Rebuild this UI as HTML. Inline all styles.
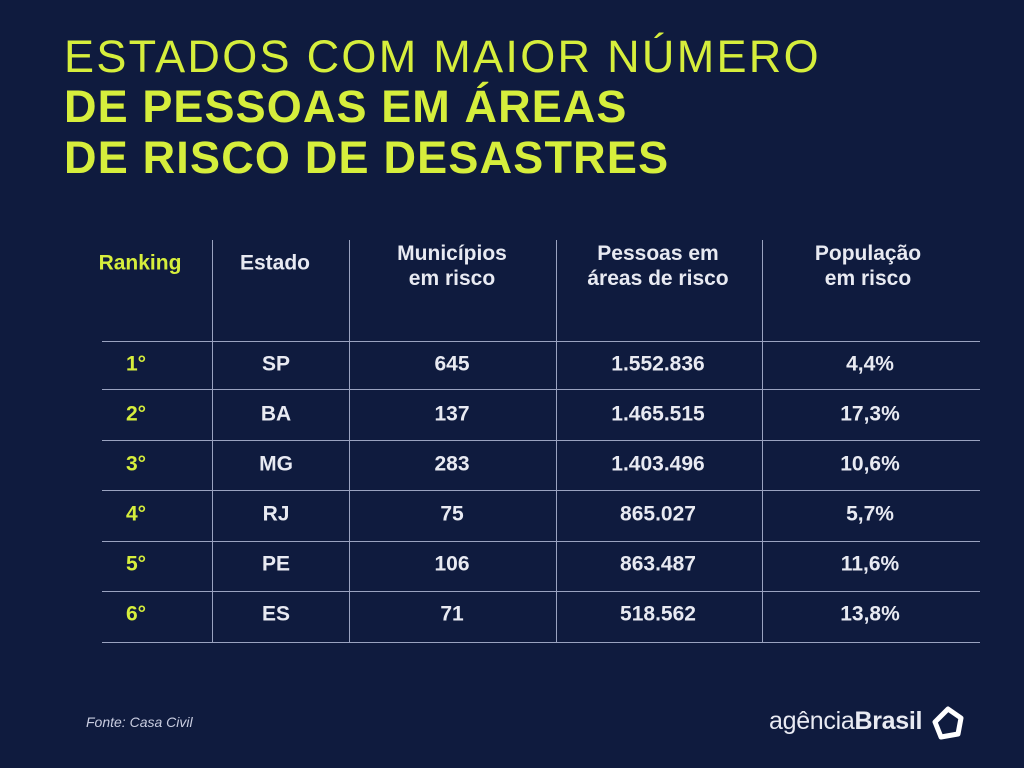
<!DOCTYPE html>
<html><head><meta charset="utf-8"><style>
body{margin:0;width:1024px;height:768px;background:#0f1b3e;position:relative;overflow:hidden;font-family:"Liberation Sans",sans-serif;}
.t{position:absolute;left:64px;color:#d6ee3c;font-size:45px;line-height:50px;white-space:nowrap}
.vl{position:absolute;top:240px;height:402px;width:1px;background:#9aa3c0}
.hl{position:absolute;left:102px;width:878px;height:1px;background:#9aa3c0}
.c{position:absolute;font-weight:bold;font-size:21px;color:#e8eaf2;text-align:center;transform:translate(-50%,-50%);white-space:nowrap;line-height:25px}
.y{color:#d6ee3c}
</style></head><body>
<div class="t" style="top:32px;letter-spacing:2.3px">ESTADOS COM MAIOR NÚMERO</div>
<div class="t" style="top:82px;font-weight:bold;letter-spacing:1.1px">DE PESSOAS EM ÁREAS</div>
<div class="t" style="top:133px;font-weight:bold;letter-spacing:1.2px">DE RISCO DE DESASTRES</div>
<div class="vl" style="left:212px"></div><div class="vl" style="left:349px"></div><div class="vl" style="left:556px"></div><div class="vl" style="left:762px"></div>
<div class="hl" style="top:341px"></div><div class="hl" style="top:389px"></div><div class="hl" style="top:440px"></div><div class="hl" style="top:490px"></div><div class="hl" style="top:541px"></div><div class="hl" style="top:591px"></div><div class="hl" style="top:642px"></div>
<div class="c y" style="left:140px;top:263px">Ranking</div>
<div class="c" style="left:275px;top:263px">Estado</div>
<div class="c" style="left:452px;top:266px">Municípios<br>em risco</div>
<div class="c" style="left:658px;top:266px">Pessoas em<br>áreas de risco</div>
<div class="c" style="left:868px;top:266px">População<br>em risco</div>
<div class="c y" style="left:136px;top:364px">1°</div><div class="c" style="left:276px;top:364px">SP</div><div class="c" style="left:452px;top:364px">645</div><div class="c" style="left:658px;top:364px">1.552.836</div><div class="c" style="left:870px;top:364px">4,4%</div>
<div class="c y" style="left:136px;top:414px">2°</div><div class="c" style="left:276px;top:414px">BA</div><div class="c" style="left:452px;top:414px">137</div><div class="c" style="left:658px;top:414px">1.465.515</div><div class="c" style="left:870px;top:414px">17,3%</div>
<div class="c y" style="left:136px;top:464px">3°</div><div class="c" style="left:276px;top:464px">MG</div><div class="c" style="left:452px;top:464px">283</div><div class="c" style="left:658px;top:464px">1.403.496</div><div class="c" style="left:870px;top:464px">10,6%</div>
<div class="c y" style="left:136px;top:514px">4°</div><div class="c" style="left:276px;top:514px">RJ</div><div class="c" style="left:452px;top:514px">75</div><div class="c" style="left:658px;top:514px">865.027</div><div class="c" style="left:870px;top:514px">5,7%</div>
<div class="c y" style="left:136px;top:564px">5°</div><div class="c" style="left:276px;top:564px">PE</div><div class="c" style="left:452px;top:564px">106</div><div class="c" style="left:658px;top:564px">863.487</div><div class="c" style="left:870px;top:564px">11,6%</div>
<div class="c y" style="left:136px;top:614px">6°</div><div class="c" style="left:276px;top:614px">ES</div><div class="c" style="left:452px;top:614px">71</div><div class="c" style="left:658px;top:614px">518.562</div><div class="c" style="left:870px;top:614px">13,8%</div>
<div style="position:absolute;left:86px;top:714px;color:#c9cde0;font-size:14px;font-style:italic">Fonte: Casa Civil</div>
<div style="position:absolute;left:769px;top:707px;color:#e8eaf2;font-size:25px;white-space:nowrap;letter-spacing:-0.3px">agência<b>Brasil</b></div>
<svg style="position:absolute;left:931px;top:706px" width="34" height="34" viewBox="0 0 34 34"><path d="M17 3 L30 12 L27 28 L10 31 L4 16 Z" fill="none" stroke="#fff" stroke-width="5" stroke-linejoin="round"/></svg>
</body></html>
